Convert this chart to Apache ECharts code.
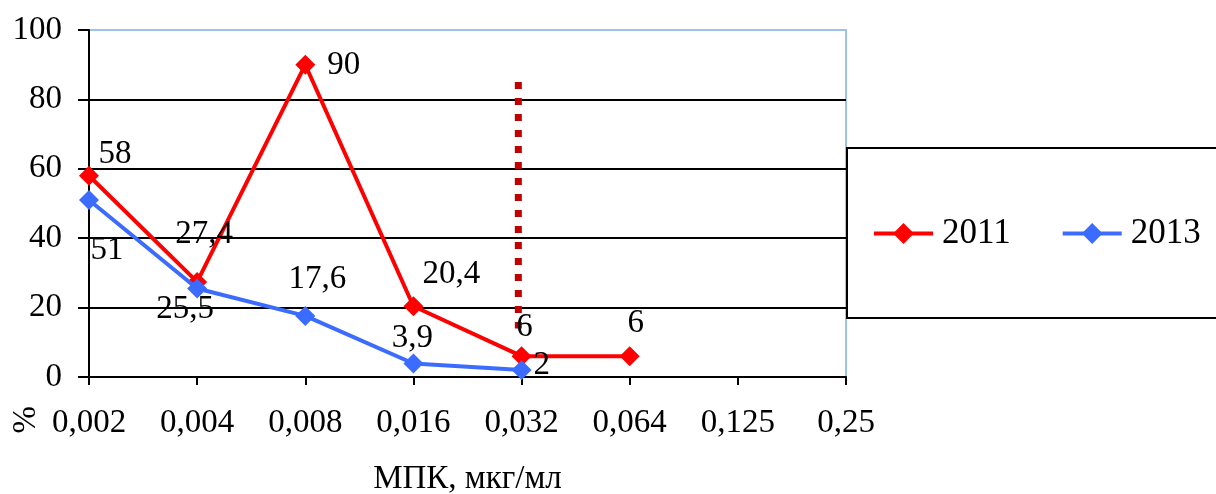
<!DOCTYPE html>
<html>
<head>
<meta charset="utf-8">
<script src="https://cdn.jsdelivr.net/npm/echarts@6/dist/echarts.min.js"></script>
<style>
  html, body { margin: 0; padding: 0; background: #fff; }
  #chart { width: 1216px; height: 494px; }
</style>
</head>
<body>
<div id="chart"></div>
<script>
// MIC categories, µg/ml
const categories = ['0,002', '0,004', '0,008', '0,016', '0,032', '0,064', '0,125', '0,25'];
// share of isolates, %
const values2011 = [58, 27.4, 90, 20.4, 6, 6, null, null];
const values2013 = [51, 25.5, 17.6, 3.9, 2, null, null, null];
const yTicks = { min: 0, max: 100, interval: 20 };
// breakpoint marker: position along the category index and its vertical extent
const cutoffX = 3.97;
const cutoffRange = [85, 14];

const FONT = '"Liberation Serif", "Times New Roman", serif';
const FS = 33;
const RED = '#FF0000';
const BLUE = '#3B6CFF';

// label placement per point
const pos2011 = [
  { position: 'top', offset: [26, 10] },
  { position: 'top', offset: [7, -16] },
  { position: 'right', offset: [7, 1] },
  { position: 'top', offset: [38, 0] },
  { position: 'top', offset: [3, 3] },
  { position: 'top', offset: [6, -1] }
];
const pos2013 = [
  { position: 'bottom', offset: [18, 19] },
  { position: 'bottom', offset: [-12, -11] },
  { position: 'top', offset: [12, -5] },
  { position: 'top', offset: [-1, 6] },
  { position: 'right', offset: [-3, -5] }
];

function withLabels(values, pos) {
  return values.map((v, i) => {
    if (v == null) return null;
    const p = pos[i];
    return {
      value: v,
      label: { show: true, position: p.position, offset: p.offset,
        formatter: String(v).replace('.', ',') }
    };
  });
}

const chart = echarts.init(document.getElementById('chart'));
chart.setOption({
  animation: false,
  textStyle: { fontFamily: FONT, color: '#000' },
  grid: {
    left: 89, right: 370, top: 30, bottom: 117,
    outerBoundsMode: 'none',
    containLabel: false,
    show: true, borderColor: '#9DC3E6', borderWidth: 2
  },
  legend: {
    orient: 'horizontal',
    left: 872, top: 216,
    itemWidth: 59, itemHeight: 26, itemGap: 50,
    padding: 0,
    lineStyle: { width: 4 },
    textStyle: { fontFamily: FONT, fontSize: 35, color: '#000', padding: [0, 0, 0, 4] },
    data: ['2011', '2013']
  },
  xAxis: [
    {
      type: 'category',
      data: categories,
      boundaryGap: false,
      axisLine: { lineStyle: { color: '#000', width: 2 } },
      axisTick: { show: true, length: 8, lineStyle: { color: '#000', width: 2 } },
      axisLabel: { fontFamily: FONT, fontSize: FS, color: '#000', margin: 30 },
      name: 'МПК, мкг/мл',
      nameLocation: 'middle',
      nameGap: 86,
      nameTextStyle: { fontFamily: FONT, fontSize: FS, color: '#000' },
      splitLine: { show: false }
    },
    {
      // index scale sharing the category positions, for the marker line
      type: 'value',
      min: 0, max: categories.length - 1,
      show: false
    }
  ],
  yAxis: {
    type: 'value',
    min: yTicks.min, max: yTicks.max, interval: yTicks.interval,
    axisLine: { show: true, lineStyle: { color: '#000', width: 2 } },
    axisTick: { show: true, inside: false, length: 11, lineStyle: { color: '#000', width: 2 } },
    axisLabel: { fontFamily: FONT, fontSize: FS, color: '#000', margin: 27 },
    splitLine: { show: true, showMaxLine: false, lineStyle: { color: '#000', width: 2 } }
  },
  graphic: [
    {
      type: 'rect',
      left: 846, top: 147,
      shape: { width: 420, height: 170 },
      style: { fill: '#fff', stroke: '#000', lineWidth: 2 },
      z: 0
    },
    {
      type: 'text',
      left: 10, top: 406,
      rotation: Math.PI / 2,
      style: { text: '%', fontFamily: FONT, fontSize: FS, fill: '#000' }
    }
  ],
  series: [
    {
      name: 'cutoff',
      type: 'line',
      xAxisIndex: 1,
      data: [[cutoffX, cutoffRange[0]], [cutoffX, cutoffRange[1]]],
      symbol: 'none',
      silent: true,
      lineStyle: { color: '#C00000', width: 7, type: [7, 9], cap: 'butt' },
      z: 2
    },
    {
      name: '2011',
      type: 'line',
      data: withLabels(values2011, pos2011),
      symbol: 'diamond',
      symbolSize: 20,
      connectNulls: false,
      lineStyle: { color: RED, width: 4 },
      itemStyle: { color: RED },
      label: { fontFamily: FONT, fontSize: FS, color: '#000' },
      z: 3
    },
    {
      name: '2013',
      type: 'line',
      data: withLabels(values2013, pos2013),
      symbol: 'diamond',
      symbolSize: 20,
      lineStyle: { color: BLUE, width: 4 },
      itemStyle: { color: BLUE },
      label: { fontFamily: FONT, fontSize: FS, color: '#000' },
      z: 4
    }
  ]
});
</script>
</body>
</html>
